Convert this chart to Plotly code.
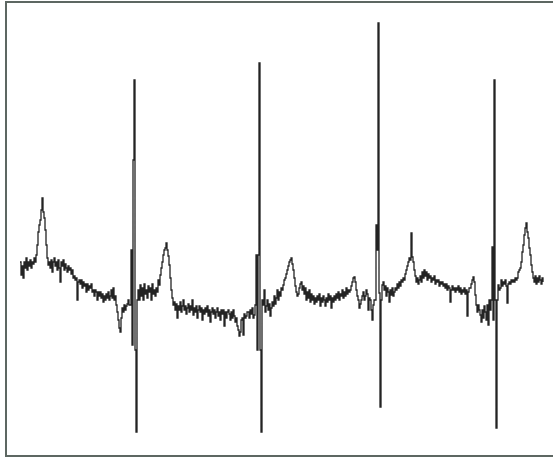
import plotly.graph_objects as go

# ECG trace: one sample per time step, amplitude in mV
start_sample = 20
amplitude_mv = [
    0.28, 0.15, 0.24, 0.12, 0.28, 0.22, 0.32, 0.20, 0.28, 0.24,
    0.30, 0.22, 0.28, 0.26, 0.32, 0.28, 0.35, 0.45, 0.58, 0.65,
    0.70, 0.80, 0.92, 0.78, 0.72, 0.60, 0.45, 0.32, 0.25, 0.28,
    0.22, 0.30, 0.18, 0.28, 0.32, 0.24, 0.28, 0.20, 0.30, 0.22,
    0.08, 0.28, 0.24, 0.30, 0.20, 0.26, 0.22, 0.18, 0.24, 0.20,
    0.22, 0.16, 0.20, 0.12, 0.14, 0.10, 0.12, -0.10, 0.08, 0.10,
    0.06, 0.10, 0.02, 0.08, 0.04, 0.06, -0.02, 0.06, 0.00, 0.04,
    0.02, 0.06, -0.02, 0.00, -0.06, 0.00, -0.02, -0.10, -0.02, -0.06,
    -0.02, -0.08, -0.04, -0.12, -0.06, -0.10, -0.04, -0.08, -0.02, -0.10,
    -0.06, 0.00, -0.08, 0.02, -0.10, -0.06, -0.15, -0.22, -0.30, -0.38,
    -0.42, -0.28, -0.18, -0.22, -0.15, -0.20, -0.16, -0.14, -0.10, -0.15,
    -0.15, 0.40, -0.55, 1.30, 2.10, -0.60, -1.42, -0.10, 0.00, -0.10,
    0.05, -0.06, 0.02, -0.10, 0.06, -0.04, 0.00, -0.08, 0.04, -0.02,
    0.02, -0.10, 0.06, -0.04, 0.00, -0.06, 0.02, -0.02, 0.10, 0.05,
    0.15, 0.22, 0.28, 0.35, 0.40, 0.42, 0.47, 0.40, 0.34, 0.25,
    0.12, 0.00, -0.08, -0.15, -0.12, -0.20, -0.14, -0.28, -0.16, -0.20,
    -0.12, -0.22, -0.16, -0.10, -0.20, -0.16, -0.24, -0.18, -0.14, -0.22,
    -0.16, -0.20, -0.10, -0.25, -0.18, -0.22, -0.16, -0.28, -0.20, -0.16,
    -0.22, -0.18, -0.30, -0.20, -0.24, -0.18, -0.22, -0.16, -0.26, -0.20,
    -0.32, -0.22, -0.18, -0.24, -0.20, -0.28, -0.22, -0.18, -0.26, -0.22,
    -0.30, -0.20, -0.24, -0.20, -0.36, -0.22, -0.28, -0.22, -0.20, -0.24,
    -0.30, -0.22, -0.28, -0.20, -0.26, -0.32, -0.28, -0.36, -0.40, -0.46,
    -0.42, -0.30, -0.28, -0.45, -0.24, -0.28, -0.26, -0.22, -0.22, -0.28,
    -0.20, -0.24, -0.18, -0.28, -0.25, -0.15, 0.35, -0.60, 0.35, 2.27,
    -0.60, -1.42, -0.10, -0.15, 0.00, -0.22, -0.16, -0.10, -0.20, -0.14,
    -0.26, -0.18, -0.12, -0.16, -0.06, -0.14, -0.08, 0.00, -0.10, -0.02,
    -0.06, 0.02, 0.00, 0.05, 0.10, 0.12, 0.16, 0.20, 0.24, 0.28,
    0.30, 0.32, 0.26, 0.20, 0.12, 0.04, -0.02, -0.06, -0.04, 0.02,
    0.06, 0.08, 0.00, 0.04, -0.04, 0.02, -0.10, -0.02, -0.08, 0.00,
    -0.12, -0.04, -0.10, -0.06, -0.14, -0.08, -0.12, -0.06, -0.10, -0.04,
    -0.16, -0.08, -0.12, -0.06, -0.10, -0.16, -0.08, -0.12, -0.04, -0.10,
    -0.06, -0.18, -0.08, -0.12, -0.06, -0.10, -0.04, -0.08, -0.02, -0.10,
    -0.04, -0.06, 0.00, -0.08, -0.02, -0.06, 0.02, -0.04, 0.00, -0.02,
    0.00, 0.04, 0.08, 0.12, 0.13, 0.08, 0.00, -0.06, -0.10, -0.18,
    -0.14, -0.10, -0.06, -0.02, -0.10, -0.06, 0.00, -0.04, -0.20, -0.08,
    -0.10, -0.20, -0.30, -0.15, -0.10, -0.10, 0.65, 0.40, 2.67, -0.03,
    -1.17, -0.10, 0.05, 0.08, 0.00, 0.04, -0.06, 0.02, -0.02, -0.12,
    0.00, -0.05, 0.02, -0.06, -0.02, 0.02, 0.00, 0.06, 0.02, 0.08,
    0.04, 0.10, 0.08, 0.12, 0.10, 0.16, 0.20, 0.24, 0.28, 0.32,
    0.30, 0.57, 0.33, 0.28, 0.20, 0.14, 0.08, 0.12, 0.06, 0.10,
    0.14, 0.08, 0.18, 0.12, 0.20, 0.14, 0.18, 0.10, 0.16, 0.12,
    0.14, 0.08, 0.12, 0.10, 0.14, 0.06, 0.10, 0.08, 0.10, 0.04,
    0.08, 0.06, 0.08, 0.04, 0.06, 0.02, 0.06, 0.00, 0.04, 0.02,
    -0.12, 0.00, 0.04, 0.00, 0.02, -0.02, 0.02, 0.00, 0.04, -0.02,
    0.02, -0.04, 0.00, -0.02, 0.02, -0.04, 0.00, -0.26, -0.02, 0.02,
    0.02, 0.06, 0.10, 0.13, 0.08, -0.05, -0.15, -0.22, -0.15, -0.20,
    -0.25, -0.32, -0.20, -0.28, -0.16, -0.22, -0.30, -0.15, -0.35, -0.10,
    -0.20, -0.10, 0.43, -0.30, 2.10, -0.10, -1.38, -0.10, 0.05, 0.00,
    0.02, 0.10, 0.04, 0.08, 0.06, 0.10, 0.04, -0.13, 0.06, 0.08,
    0.06, 0.10, 0.08, 0.10, 0.08, 0.12, 0.10, 0.12, 0.18, 0.20,
    0.22, 0.28, 0.38, 0.45, 0.55, 0.62, 0.67, 0.58, 0.52, 0.42,
    0.35, 0.25, 0.18, 0.12, 0.08, 0.14, 0.06, 0.12, 0.08, 0.14,
    0.10, 0.06, 0.12, 0.08,
]
sample = list(range(start_sample, start_sample + len(amplitude_mv)))

frame_color = "#5d6762"

fig = go.Figure(
    go.Scatter(
        x=sample,
        y=amplitude_mv,
        mode="lines",
        line=dict(color="#232323", width=1.3, shape="hv"),
        hoverinfo="skip",
    )
)

fig.update_layout(
    width=553,
    height=460,
    margin=dict(l=7, r=0, t=3, b=5),
    paper_bgcolor="white",
    plot_bgcolor="white",
    showlegend=False,
)
fig.update_xaxes(
    range=[7, 553],
    showgrid=False,
    zeroline=False,
    showticklabels=False,
    ticks="",
    showline=True,
    linecolor=frame_color,
    linewidth=2,
    mirror=True,
)
fig.update_yaxes(
    range=[-1.65, 2.87],
    showgrid=False,
    zeroline=False,
    showticklabels=False,
    ticks="",
    showline=True,
    linecolor=frame_color,
    linewidth=2,
    mirror=False,
)

fig.write_html(
    "out.html",
    config={"displayModeBar": False},
    post_script="document.body.style.margin='0';document.body.style.overflow='hidden';",
)
